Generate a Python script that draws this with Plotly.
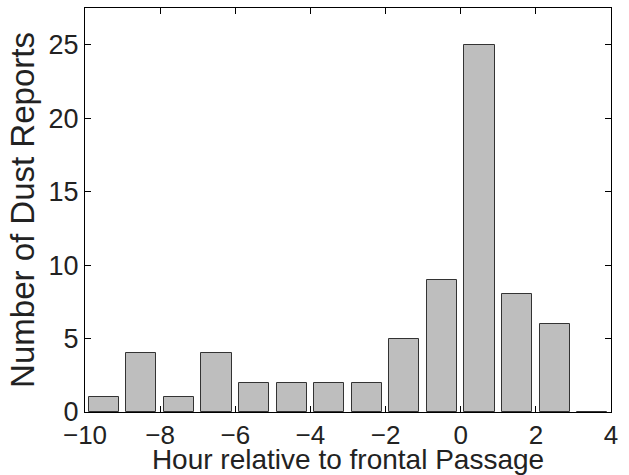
import plotly.graph_objects as go

hours = [-9.5, -8.5, -7.5, -6.5, -5.5, -4.5, -3.5, -2.5, -1.5, -0.5, 0.5, 1.5, 2.5, 3.5]
counts = [1, 4, 1, 4, 2, 2, 2, 2, 5, 9, 25, 8, 6, 0]
x_ticks = [-10, -8, -6, -4, -2, 0, 2, 4]
y_ticks = [0, 5, 10, 15, 20, 25]

fig = go.Figure(go.Bar(
    x=hours, y=counts, width=0.8,
    marker=dict(color="#bebebe", line=dict(color="#333333", width=1)),
))

font = dict(family="Liberation Sans, Arial, Helvetica, sans-serif", size=26, color="#222222")
fig.update_layout(
    width=629, height=475,
    margin=dict(l=85, r=18, t=8, b=63),
    paper_bgcolor="white", plot_bgcolor="white",
    font=font, showlegend=False, bargap=0,
)
fig.update_xaxes(
    range=[-10, 4], tickvals=x_ticks, ticks="inside", ticklen=6, tickcolor="black",
    showline=True, linecolor="black", linewidth=1, mirror="ticks", showgrid=False,
    zeroline=False, automargin=False,
    title=dict(text="Hour relative to frontal Passage", standoff=0, font=dict(size=28)),
    tickfont=dict(size=26),
)
fig.update_yaxes(
    range=[0, 27.5], tickvals=y_ticks, ticks="inside", ticklen=6, tickcolor="black",
    showline=True, linecolor="black", linewidth=1, mirror="ticks", showgrid=False,
    zeroline=False, automargin=False,
    title=dict(text="Number of Dust Reports", standoff=4, font=dict(size=33)),
    tickfont=dict(size=27),
)
fig.write_html("out.html")
